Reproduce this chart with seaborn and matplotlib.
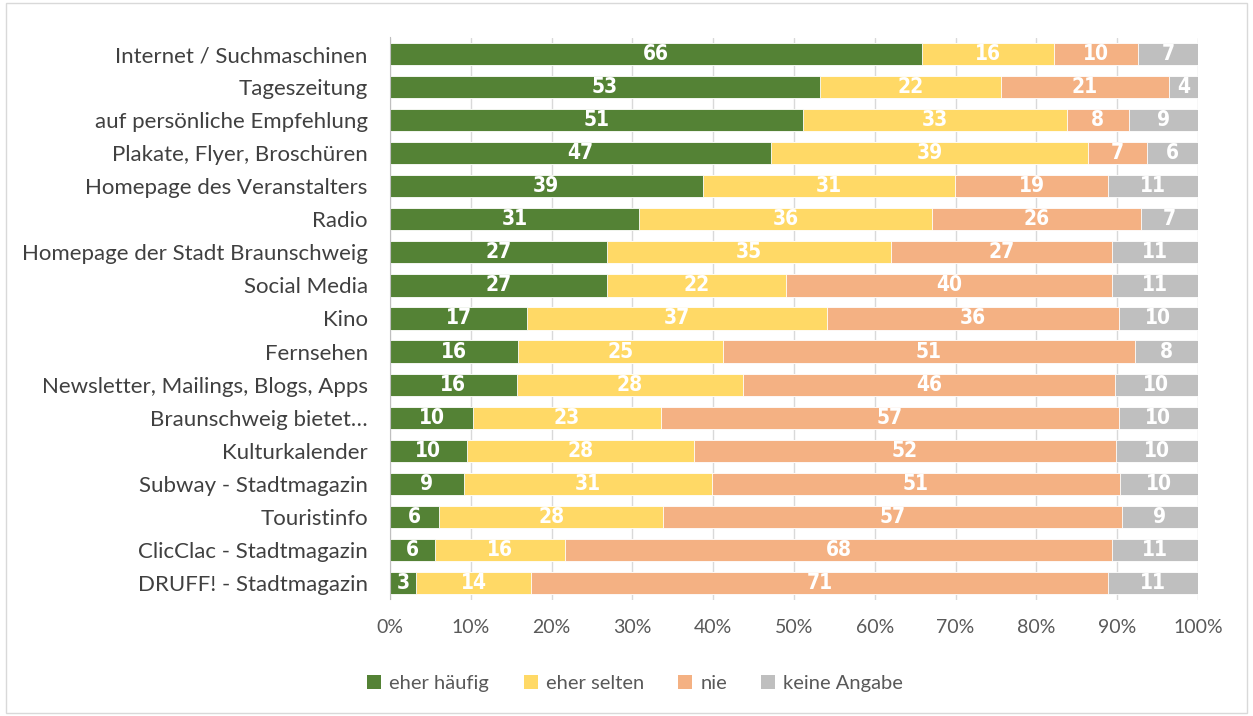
import pandas as pd
import numpy as np
import seaborn as sns
from matplotlib import pyplot as plt
from matplotlib.patches import Rectangle, Patch

categories = [
    "Internet / Suchmaschinen", "Tageszeitung", "auf persönliche Empfehlung",
    "Plakate, Flyer, Broschüren", "Homepage des Veranstalters", "Radio",
    "Homepage der Stadt Braunschweig", "Social Media", "Kino", "Fernsehen",
    "Newsletter, Mailings, Blogs, Apps", "Braunschweig bietet…", "Kulturkalender",
    "Subway - Stadtmagazin", "Touristinfo", "ClicClac - Stadtmagazin",
    "DRUFF! - Stadtmagazin",
]
eher_haeufig = [65.8, 53.2, 51.1, 47.2, 38.7, 30.8, 26.9, 26.9, 17.0, 15.8, 15.7, 10.3, 9.5, 9.1, 6.1, 5.6, 3.2]
eher_selten = [16.4, 22.4, 32.7, 39.2, 31.2, 36.3, 35.1, 22.1, 37.1, 25.4, 28.0, 23.2, 28.1, 30.7, 27.7, 16.1, 14.3]
nie = [10.4, 20.8, 7.6, 7.3, 19.0, 25.8, 27.4, 40.4, 36.1, 51.0, 46.0, 56.7, 52.3, 50.6, 56.8, 67.7, 71.4]
keine_angabe = [7.4, 3.6, 8.6, 6.3, 11.1, 7.1, 10.6, 10.6, 9.8, 7.8, 10.3, 9.8, 10.1, 9.6, 9.4, 10.6, 11.1]

series = ["eher häufig", "eher selten", "nie", "keine Angabe"]
colors = ["#548235", "#FFD966", "#F4B183", "#BFBFBF"]
ticks = [0, 10, 20, 30, 40, 50, 60, 70, 80, 90, 100]

df = pd.DataFrame({
    "Quelle": categories,
    "eher häufig": eher_haeufig,
    "eher selten": eher_selten,
    "nie": nie,
    "keine Angabe": keine_angabe,
})
cum = df[series].cumsum(axis=1)
starts = cum - df[series]

sns.set_style("white")
plt.rcParams["font.family"] = ["Lato", "DejaVu Sans"]

fig = plt.figure(figsize=(12.53, 7.16), dpi=100)
ax = fig.add_axes([390 / 1253, 1 - 599.5 / 716, 808 / 1253, 562 / 716])

# draw cumulative totals from the back to the front
for name, color in reversed(list(zip(series, colors))):
    sns.barplot(data=cum.assign(Quelle=df["Quelle"]), x=name, y="Quelle", orient="h",
                color=color, saturation=1, width=0.67, ax=ax, zorder=2,
                linewidth=0.6, edgecolor="white")

for i in range(len(categories)):
    for name in series:
        v = df.loc[i, name]
        ax.text(starts.loc[i, name] + v / 2, i, f"{v:.0f}", ha="center", va="center",
                color="white", fontsize=15, fontweight="bold", fontstretch="condensed",
                family=["DejaVu Sans"], zorder=3)

ax.set_xlim(0, 100)
ax.set_ylim(len(categories) - 0.5, -0.5)
ax.set_xticks(ticks)
ax.set_xticklabels([f"{t}%" for t in ticks])
ax.set_xlabel("")
ax.set_ylabel("")
ax.xaxis.grid(True, color="#D9D9D9", linewidth=1, zorder=0)
ax.set_axisbelow(True)
for s in ["top", "right", "bottom"]:
    ax.spines[s].set_visible(False)
ax.spines["left"].set_color("#BFBFBF")
ax.tick_params(axis="y", length=0, pad=16, labelsize=16, labelcolor="#404040")
ax.tick_params(axis="x", length=0, pad=14, labelsize=14, labelcolor="#595959")

handles = [Patch(facecolor=c, edgecolor="none") for c in colors]
fig.legend(handles, series, loc="center", bbox_to_anchor=(0.507, 0.046), ncol=4,
           frameon=False, fontsize=14.5, labelcolor="#595959", handlelength=0.7,
           handleheight=0.7, handletextpad=0.4, columnspacing=1.7)

fig.patches.append(Rectangle((0.005, 0.004), 0.99, 0.992, transform=fig.transFigure,
                             fill=False, edgecolor="#D9D9D9", linewidth=1))

fig.savefig("out.png", dpi=100)
